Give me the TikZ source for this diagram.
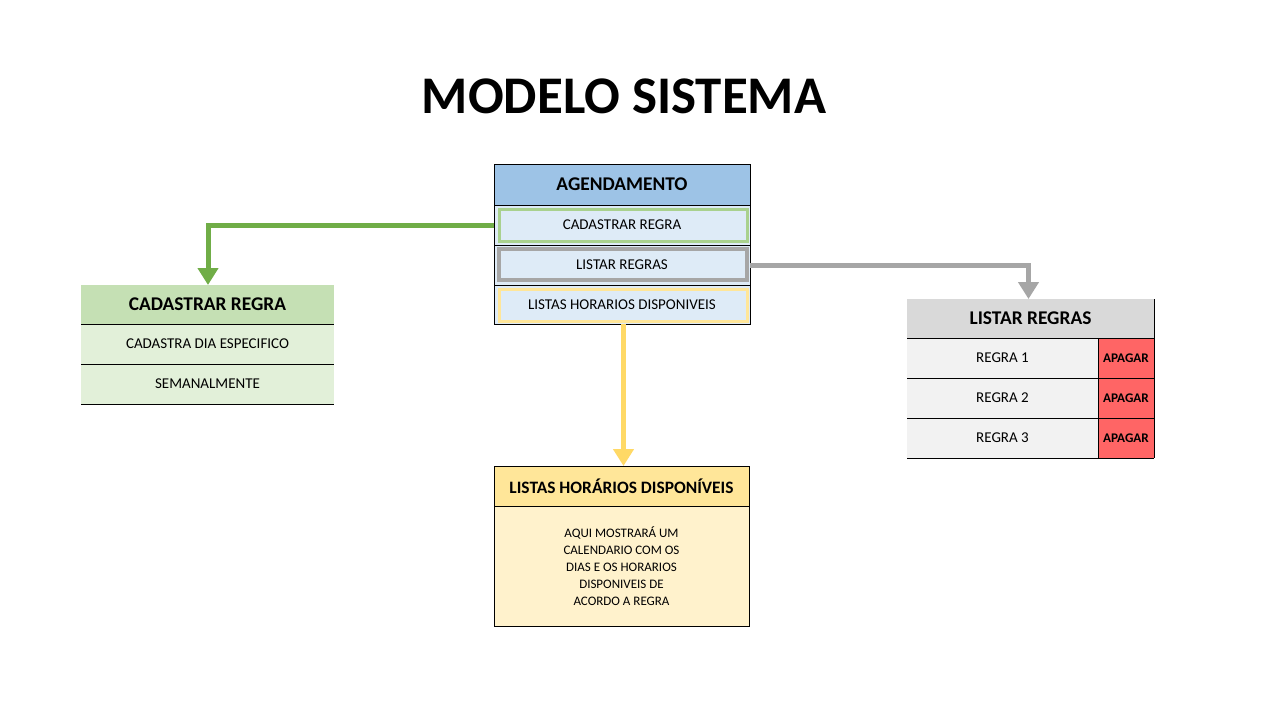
\documentclass[tikz,border=0pt]{standalone}
\usepackage{fontspec}
\setmainfont{Carlito}
\usetikzlibrary{arrows.meta}
\definecolor{agHead}{HTML}{9DC3E6}
\definecolor{agRow}{HTML}{DEEBF7}
\definecolor{grBorder}{HTML}{A9D18E}
\definecolor{gyBorder}{HTML}{A6A6A6}
\definecolor{ylBorder}{HTML}{FFE699}
\definecolor{grHead}{HTML}{C5E0B4}
\definecolor{grRow}{HTML}{E2F0D9}
\definecolor{grArrow}{HTML}{70AD47}
\definecolor{gyHead}{HTML}{D9D9D9}
\definecolor{gyRow}{HTML}{F2F2F2}
\definecolor{redCell}{HTML}{FF6565}
\definecolor{gyArrow}{HTML}{A6A6A6}
\definecolor{ylHead}{HTML}{FFE699}
\definecolor{ylBody}{HTML}{FFF2CC}
\definecolor{ylArrow}{HTML}{FFD966}
\begin{document}
\begin{tikzpicture}[x=1pt,y=-1pt,
  cell/.style={anchor=north west,inner sep=0pt,outer sep=0pt,align=center,
    font=\fontsize{15}{17}\selectfont},
  headcell/.style={cell,font=\bfseries\fontsize{19.4}{21}\selectfont},
  redcell/.style={cell,fill=redCell,minimum width=56pt,minimum height=40pt,
    font=\bfseries\fontsize{13.2}{15}\selectfont},
  rowtext/.style={font=\fontsize{15}{17}\selectfont},
  rule/.style={draw=black,line width=1pt},
  conn/.style={line width=5pt,-{Triangle[width=20pt,length=17pt]}}
]
\useasboundingbox[fill=white] (0,0) rectangle (1280,720);
% title
\node[font=\bfseries\fontsize{52.9}{56}\selectfont] (title) at (624,96) {MODELO SISTEMA};

% ---------- AGENDAMENTO ----------
\node[headcell,fill=agHead,minimum width=256pt,minimum height=41pt] (ag) at (494,164) {AGENDAMENTO};
\node[cell,fill=agRow,minimum width=256pt,minimum height=40pt] (agr1) at (494,205) {};
\node[cell,fill=agRow,minimum width=256pt,minimum height=40pt] (agr2) at (494,245) {};
\node[cell,fill=agRow,minimum width=256pt,minimum height=39pt] (agr3) at (494,285) {};
\draw[grBorder,line width=3pt] (499,209) rectangle (747,241);
\draw[gyBorder,line width=3.5pt] (499,249) rectangle (747,280);
\draw[ylBorder,line width=3pt] (499,289) rectangle (747,321);
\node[rowtext] (agt1) at (agr1.center) {CADASTRAR REGRA};
\node[rowtext] (agt2) at (agr2.center) {LISTAR REGRAS};
\node[rowtext] (agt3) at (agr3.center) {LISTAS HORARIOS DISPONIVEIS};
\draw[rule] (494,164) rectangle (750,324);
\draw[rule] (494,205) -- (750,205);
\draw[rule] (494,245) -- (750,245);
\draw[rule] (494,285) -- (750,285);

% ---------- CADASTRAR REGRA ----------
\node[headcell,fill=grHead,minimum width=253pt,minimum height=39pt] (cr) at (81,285) {CADASTRAR REGRA};
\node[cell,fill=grRow,minimum width=253pt,minimum height=40pt] (cr1) at (81,324) {CADASTRA DIA ESPECIFICO};
\node[cell,fill=grRow,minimum width=253pt,minimum height=40pt] (cr2) at (81,364) {SEMANALMENTE};
\draw[rule] (81,324) -- (334,324);
\draw[rule] (81,364) -- (334,364);
\draw[rule] (81,404) -- (334,404);

% ---------- LISTAR REGRAS ----------
\node[headcell,fill=gyHead,minimum width=247pt,minimum height=39pt] (lr) at (907,299) {LISTAR REGRAS};
\node[cell,fill=gyRow,minimum width=191pt,minimum height=40pt] (lr1) at (907,338) {REGRA 1};
\node[cell,fill=gyRow,minimum width=191pt,minimum height=40pt] (lr2) at (907,378) {REGRA 2};
\node[cell,fill=gyRow,minimum width=191pt,minimum height=40pt] (lr3) at (907,418) {REGRA 3};
\node[redcell] (ap1) at (1098,338) {APAGAR};
\node[redcell] (ap2) at (1098,378) {APAGAR};
\node[redcell] (ap3) at (1098,418) {APAGAR};
\draw[rule] (907,338) -- (1154,338);
\draw[rule] (907,378) -- (1154,378);
\draw[rule] (907,418) -- (1154,418);
\draw[rule] (907,458) -- (1154,458);
\draw[rule] (1154,299) -- (1154,458);
\draw[rule] (1098,338) -- (1098,458);

% ---------- LISTAS HORARIOS ----------
\node[headcell,fill=ylHead,minimum width=255pt,minimum height=40pt,font=\bfseries\fontsize{17.4}{19}\selectfont] (lh) at (494,466) {LISTAS HORÁRIOS DISPONÍVEIS};
\node[cell,fill=ylBody,minimum width=255pt,minimum height=120pt,font=\fontsize{13}{17}\selectfont] (lhb) at (494,506) {AQUI MOSTRARÁ UM\\CALENDARIO COM OS\\DIAS E OS HORARIOS\\DISPONIVEIS DE\\ACORDO A REGRA};
\draw[rule] (494,466) rectangle (749,626);
\draw[rule] (494,506) -- (749,506);

% ---------- connectors ----------
\coordinate (gcorner) at (208,225.5);
\draw[conn,grArrow] (agr1.west) ++(0,0.5) -- (gcorner) -- (cr.north -| gcorner);
\coordinate (ycorner) at (1028.5,265.5);
\draw[conn,gyArrow] (agr2.east) ++(0,0.5) -- (ycorner) -- (lr.north -| ycorner);
\draw[conn,ylArrow] (agr3.south -| 623.5,0) -- (lh.north -| 623.5,0);
\end{tikzpicture}
\end{document}
